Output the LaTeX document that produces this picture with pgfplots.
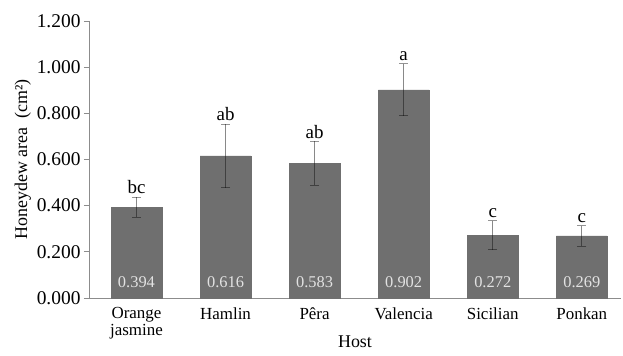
\documentclass[border=0pt]{standalone}
\usepackage{pgfplots}
\pgfplotsset{compat=1.18}
\usepackage{fontspec}
\setmainfont{Liberation Serif}
\definecolor{barc}{HTML}{6F6F6F}
\definecolor{axc}{HTML}{8C8C8C}
\definecolor{valc}{HTML}{E2E2E2}
\begin{document}
\begin{tikzpicture}
\begin{axis}[
  name=ax,
  scale only axis,
  width=532bp, height=277bp,
  xmin=-0.533, xmax=5.44,
  ymin=0, ymax=1.2,
  axis x line=bottom, axis y line=left,
  axis line style={draw=axc, line width=0.9pt, -},
  xtick={0,1,2,3,4,5},
  xticklabels={{Orange\\jasmine},Hamlin,Pêra,Valencia,Sicilian,Ponkan},
  x tick label style={align=center, font=\fontsize{17}{17}\selectfont, yshift=-1bp},
  x tick style={draw=none},
  ytick={0,0.2,0.4,0.6,0.8,1.0,1.2},
  y tick label style={font=\fontsize{19.5}{20}\selectfont},
  y tick style={draw=axc, line width=0.9pt},
  tick align=outside,
  major tick length=5bp,
  yticklabel={\pgfmathprintnumber[fixed,fixed zerofill,precision=3]{\tick}},
  /pgf/number format/assume math mode=true,
  xlabel={Host},
  xlabel style={font=\fontsize{18}{18}\selectfont, yshift=10bp},
  ylabel={Honeydew area~ (cm²)},
  ylabel style={font=\fontsize{18}{18}\selectfont, yshift=-1bp},
  clip=false,
]
\addplot[ybar, bar width=0.57, fill=barc, draw=barc,
  error bars/.cd, y dir=both, y explicit,
  error bar style={draw=black, draw opacity=0.42, line width=0.9pt},
  error mark options={rotate=90, mark size=4.5bp, draw=black, draw opacity=0.42, line width=0.9pt}]
  coordinates {
  (0,0.394) +- (0,0.043)
  (1,0.616) +- (0,0.138)
  (2,0.583) +- (0,0.095)
  (3,0.902) +- (0,0.113)
  (4,0.272) +- (0,0.063)
  (5,0.269) +- (0,0.045)
};
% value labels inside bars
\addplot[draw=none, mark=none, nodes near coords, point meta=explicit symbolic,
  every node near coord/.style={anchor=center, text=valc, font=\fontsize{16.5}{17}\selectfont}]
  coordinates {
  (0,0.068) [0.394]
  (1,0.068) [0.616]
  (2,0.068) [0.583]
  (3,0.068) [0.902]
  (4,0.068) [0.272]
  (5,0.068) [0.269]
};
% significance letters
\addplot[draw=none, mark=none, nodes near coords, point meta=explicit symbolic,
  every node near coord/.style={anchor=south, inner sep=0bp, yshift=3bp, font=\fontsize{19}{19}\selectfont}]
  coordinates {
  (0,0.437) [bc]
  (1,0.754) [ab]
  (2,0.678) [ab]
  (3,1.015) [a]
  (4,0.335) [c]
  (5,0.314) [c]
};
\end{axis}
\pgfresetboundingbox
\path[use as bounding box] ([shift={(-89bp,-58bp)}]ax.south west) rectangle ([shift={(2bp,21bp)}]ax.north east);
\end{tikzpicture}
\end{document}
